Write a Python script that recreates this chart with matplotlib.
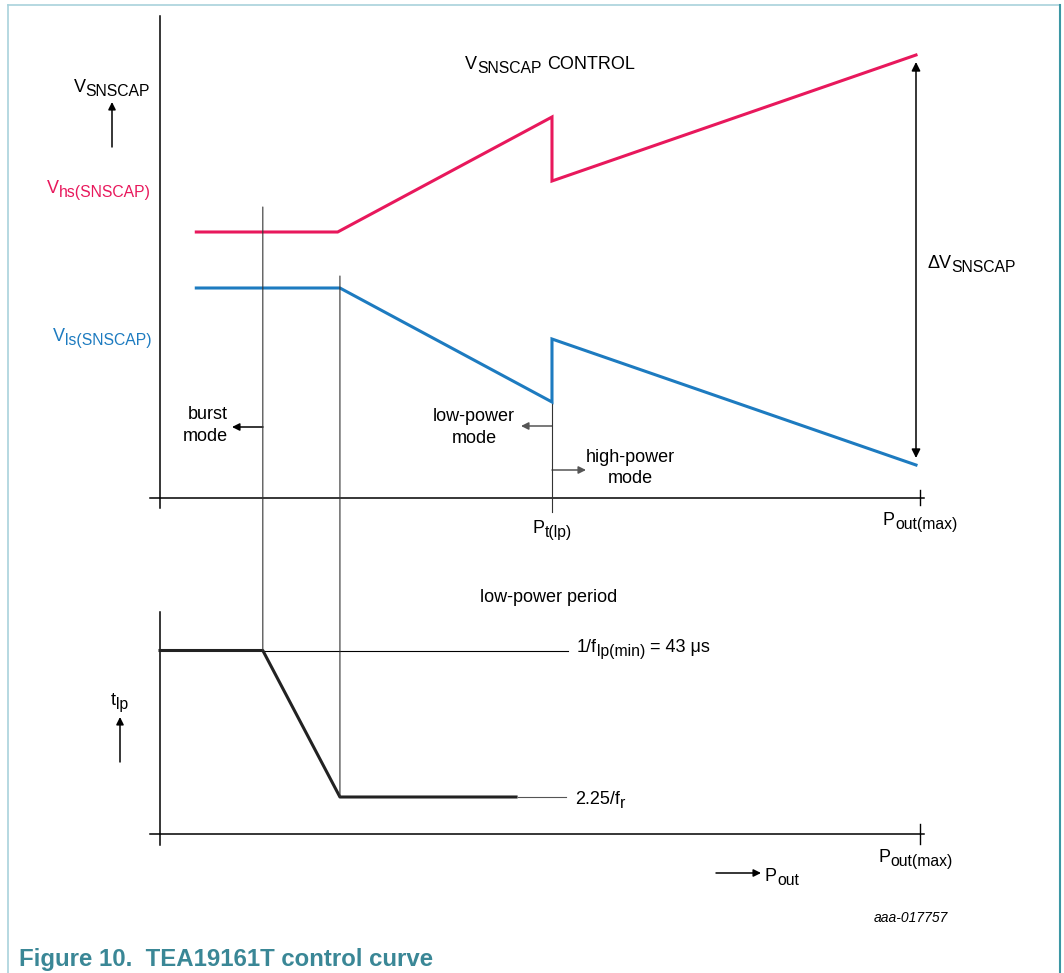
import numpy as np
import matplotlib
matplotlib.use("Agg")
import matplotlib.pyplot as plt
from matplotlib.patches import ConnectionPatch

plt.rcParams['font.family'] = ['Liberation Sans', 'DejaVu Sans']

# --- data (P normalised to Pout(max) = 1) ---
p_hs = [0.048, 0.235, 0.5185, 0.5185, 1.0]
v_hs = [2.66, 2.66, 3.81, 3.17, 4.43]
p_ls = [0.048, 0.238, 0.5185, 0.5185, 1.0]
v_ls = [2.10, 2.10, 0.96, 1.59, 0.33]
p_t_lp = 0.5185
p_burst = 0.136
p_knee = 0.238
p_tlp = [0.0, 0.136, 0.238, 0.471]
t_lp = [1.835, 1.835, 0.37, 0.37]
t_max = 1.835
t_min = 0.37

W, H = 1064, 973
RED = '#e8185c'
BLUE = '#1d7bc0'
TEAL = '#3a8796'

fig = plt.figure(figsize=(W / 100, H / 100), dpi=100)
renderer = fig.canvas.get_renderer()

# pixel overlay for frame, labels and arrows
ov = fig.add_axes([0, 0, 1, 1])
ov.set_xlim(0, W)
ov.set_ylim(H, 0)
ov.axis('off')

# top panel (V_SNSCAP) and bottom panel (t_lp), both full figure, same P scale
xl = (-160 / 756, (W - 160) / 756)
ax1 = fig.add_axes([0, 0, 1, 1])
ax1.set_xlim(*xl)
ax1.set_ylim((498 - H) / 100, 498 / 100)
ax1.axis('off')
ax1.patch.set_alpha(0)
ax2 = fig.add_axes([0, 0, 1, 1])
ax2.set_xlim(*xl)
ax2.set_ylim((834 - H) / 100, 834 / 100)
ax2.axis('off')
ax2.patch.set_alpha(0)

# frame
ov.plot([8, 8], [5, H], color='#a9d2dc', lw=1.2)
ov.plot([8, 1060], [5, 5], color='#a9d2dc', lw=1.2)
ov.plot([1060, 1060], [5, H], color='#3c97a4', lw=1.5)

# top axes lines
ax1.plot([0, 0], [-0.1, 4.82], color='black', lw=1.1)
ax1.plot([-0.013, 1.011], [0, 0], color='black', lw=1.1)
ax1.plot([1.005, 1.005], [-0.07, 0.08], color='black', lw=1.0)
ax1.plot([p_t_lp, p_t_lp], [v_ls[2], -0.14], color='#333333', lw=0.8)

# curves
ax1.plot(p_hs, v_hs, color=RED, lw=2.2, solid_joinstyle='miter')
ax1.plot(p_ls, v_ls, color=BLUE, lw=2.2, solid_joinstyle='miter')

# delta V arrow
ax1.annotate('', xy=(1.0, 4.36), xytext=(1.0, 0.40),
             arrowprops=dict(arrowstyle='<|-|>', color='black', lw=1.1,
                             mutation_scale=13, shrinkA=0, shrinkB=0))

# bottom axes lines
ax2.plot([0, 0], [-0.11, 2.22], color='black', lw=1.1)
ax2.plot([-0.013, 1.011], [0, 0], color='black', lw=1.1)
ax2.plot([1.005, 1.005], [-0.1, 0.1], color='black', lw=1.0)
ax2.plot([p_burst, 0.540], [t_max, t_max], color='black', lw=0.8)
ax2.plot([0.474, 0.537], [t_min, t_min], color='#555555', lw=0.8)
ax2.plot(p_tlp, t_lp, color='#222222', lw=2.2)

# vertical connecting lines between panels
for p, vtop, tbot in [(p_burst, 2.91, t_max), (p_knee, 2.22, t_min)]:
    con = ConnectionPatch(xyA=(p, vtop), coordsA=ax1.transData,
                          xyB=(p, tbot), coordsB=ax2.transData,
                          color='#333333', lw=0.8)
    fig.add_artist(con)

# small arrows
def arrow(x0, y0, x1, y1, c='black'):
    ov.annotate('', xy=(x1, y1), xytext=(x0, y0),
                arrowprops=dict(arrowstyle='-|>', color=c, lw=1.1,
                                mutation_scale=11, shrinkA=0, shrinkB=0))

arrow(112, 147, 112, 102)
arrow(120, 762, 120, 717)
arrow(263, 427, 232, 427)
arrow(552, 426, 521, 426, '#555555')
arrow(552, 470, 586, 470, '#555555')
arrow(716, 873, 761, 873)

fs = 13
fs_sub = 11.3

def txt(x, y, s, ha='left', c='black', size=fs, **kw):
    return ov.text(x, y, s, ha=ha, va='baseline', color=c, fontsize=size, **kw)

def width(s, size):
    t = ov.text(0, 0, s, fontsize=size)
    w = t.get_window_extent(renderer).width
    t.remove()
    return w

# text with subscripts: pieces are (string, 'm'|'s') or a gap in px
def rich(x, y, pieces, ha='left', c='black'):
    widths = []
    for p in pieces:
        if isinstance(p, (int, float)):
            widths.append(p)
        else:
            widths.append(width(p[0], fs if p[1] == 'm' else fs_sub))
    total = sum(widths)
    if ha == 'right':
        x = x - total
    for p, w in zip(pieces, widths):
        if not isinstance(p, (int, float)):
            if p[1] == 'm':
                txt(x, y, p[0], c=c)
            else:
                txt(x, y + 4, p[0], c=c, size=fs_sub)
        x += w

rich(150, 92, [('V', 'm'), ('SNSCAP', 's')], ha='right')
rich(151, 193, [('V', 'm'), ('hs(SNSCAP)', 's')], ha='right', c=RED)
rich(151, 341, [('V', 'm'), ('ls(SNSCAP)', 's')], ha='right', c=BLUE)
rich(465, 69, [('V', 'm'), ('SNSCAP', 's'), 6, ('CONTROL', 'm')])
rich(927, 268, [('ΔV', 'm'), ('SNSCAP', 's')])
txt(228, 419, 'burst', ha='right')
txt(228, 441, 'mode', ha='right')
txt(474, 421, 'low-power', ha='center')
txt(474, 443, 'mode', ha='center')
txt(630, 462, 'high-power', ha='center')
txt(630, 483, 'mode', ha='center')
rich(533, 533, [('P', 'm'), ('t(lp)', 's')])
rich(883, 525, [('P', 'm'), ('out(max)', 's')])
txt(480, 602, 'low-power period')
rich(577, 652, [('1/f', 'm'), ('lp(min)', 's'), 5, ('= 43 μs', 'm')])
rich(575, 804, [('2.25/f', 'm'), ('r', 's')])
rich(111, 705, [('t', 'm'), ('lp', 's')])
rich(878, 862, [('P', 'm'), ('out(max)', 's')])
rich(765, 881, [('P', 'm'), ('out', 's')])
txt(874, 922, 'aaa-017757', size=10, style='italic')
txt(19, 966, 'Figure 10.  TEA19161T control curve', c=TEAL, size=17.3,
    weight='bold')

fig.savefig('out.png', dpi=100)
